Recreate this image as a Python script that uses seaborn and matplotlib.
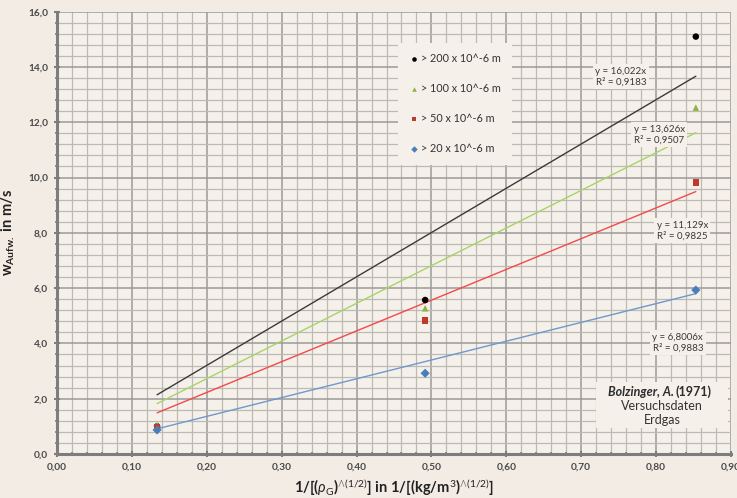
import numpy as np
import pandas as pd
import matplotlib
matplotlib.use("Agg")
import matplotlib.pyplot as plt
from matplotlib.ticker import MultipleLocator, FuncFormatter
import seaborn as sns

# Particle size classes and measured points
classes = ["> 200 x 10^-6 m", "> 100 x 10^-6 m", "> 50 x 10^-6 m", "> 20 x 10^-6 m"]
x_vals = [0.1337, 0.4916, 0.853]
y_200 = [1.00, 5.57, 15.10]
y_100 = [1.05, 5.27, 12.53]
y_50 = [0.97, 4.82, 9.83]
y_20 = [0.87, 2.92, 5.93]

# Trend lines through the origin (y = a*x) with their R²
slopes = [16.022, 13.626, 11.129, 6.8006]
r2 = [0.9183, 0.9507, 0.9825, 0.9883]
slope_labels = ["16,022", "13,626", "11,129", "6,8006"]
r2_labels = ["0,9183", "0,9507", "0,9825", "0,9883"]

point_colors = ["#000000", "#8fb33f", "#c0392b", "#4a7ebb"]
line_colors = ["#3a3a3a", "#a6d468", "#f24a4a", "#6f98cc"]
markers = ["o", "^", "s", "D"]

sns.set_theme(style="white")
plt.rcParams["font.family"] = ["Lato", "DejaVu Sans"]
plt.rcParams["mathtext.fontset"] = "custom"
plt.rcParams["mathtext.rm"] = "Lato"
plt.rcParams["mathtext.bf"] = "Lato:bold"
plt.rcParams["mathtext.it"] = "Lato:italic"

bg = "#f3ece5"
panel = "#f5f0ea"
fig = plt.figure(figsize=(7.37, 4.98), dpi=100, facecolor=bg)
ax = fig.add_axes([0.0773, 0.0884, 0.9146, 0.8881])
ax.set_facecolor(panel)

df = pd.DataFrame({
    "x": x_vals * 4,
    "y": y_200 + y_100 + y_50 + y_20,
    "Klasse": sum([[c] * 3 for c in classes], []),
})

# Grid
ax.set_xlim(0, 0.9)
ax.set_ylim(0, 16)
ax.xaxis.set_major_locator(MultipleLocator(0.1))
ax.xaxis.set_minor_locator(MultipleLocator(0.02))
ax.yaxis.set_major_locator(MultipleLocator(2.0))
ax.yaxis.set_minor_locator(MultipleLocator(0.4))
ax.grid(which="major", color="#9a9a9a", lw=1.1, zorder=0)
ax.grid(which="minor", color="#bdbab6", lw=0.9, zorder=0)
ax.set_axisbelow(True)

# Trend lines spanning the measured range
xr = np.array([min(x_vals), max(x_vals)])
for a, lc in zip(slopes, line_colors):
    sns.lineplot(x=xr, y=a * xr, color=lc, lw=1.0, ax=ax, zorder=2)

sns.scatterplot(data=df, x="x", y="y", hue="Klasse", style="Klasse",
                hue_order=classes, style_order=classes,
                palette=dict(zip(classes, point_colors)),
                markers=dict(zip(classes, markers)),
                s=22, linewidth=0, ax=ax, zorder=4)

# Legend
leg = ax.legend(loc="upper left", bbox_to_anchor=(0.506, 0.93), fontsize=7.8,
                labelspacing=1.75, handletextpad=0.15, handlelength=1.0,
                borderpad=1.0, borderaxespad=0, frameon=True, facecolor=panel,
                edgecolor="none", framealpha=1.0, markerscale=0.7)
leg.get_frame().set_boxstyle("square", pad=0)
leg.set_zorder(3)
for t in leg.get_texts():
    t.set_color("#333333")

# Equation labels
label_pos = [(0.753, 13.64), (0.804, 11.54), (0.835, 8.07), (0.829, 4.02)]
for (lx, ly), s_lab, r_lab in zip(label_pos, slope_labels, r2_labels):
    ax.text(lx, ly, f"y = {s_lab}x\nR² = {r_lab}", fontsize=7, color="#3a3a3a",
            ha="center", va="center", linespacing=1.25, zorder=5,
            bbox=dict(boxstyle="square,pad=0.25", fc=panel, ec="none"))

# Source box
ax.add_patch(plt.Rectangle((0.72, 0.94), 0.176, 1.66, fc=panel, ec="none", zorder=3))
ax.text(0.8235, 2.24, "Bolzinger, A.", fontsize=9, ha="right", va="center",
        color="#2e2e2e", fontweight="bold", fontstyle="italic", zorder=6)
ax.text(0.8255, 2.24, "(1971)", fontsize=9, ha="left", va="center",
        color="#2e2e2e", fontweight="bold", zorder=6)
ax.text(0.808, 1.74, "Versuchsdaten", fontsize=9, ha="center", va="center",
        color="#333333", zorder=6)
ax.text(0.808, 1.22, "Erdgas", fontsize=9, ha="center", va="center",
        color="#333333", zorder=6)

# Axes styling
for side in ["top", "right"]:
    ax.spines[side].set_visible(False)
for side in ["left", "bottom"]:
    ax.spines[side].set_color("#7d7d7d")
    ax.spines[side].set_linewidth(2.2)
    ax.spines[side].set_zorder(6)

ax.xaxis.set_major_formatter(FuncFormatter(lambda v, p: f"{v:.2f}".replace(".", ",")))
ax.yaxis.set_major_formatter(FuncFormatter(lambda v, p: f"{v:.1f}".replace(".", ",")))
ax.tick_params(axis="both", which="major", direction="inout", length=5, width=1.5,
               color="#7d7d7d", labelsize=7.3, labelcolor="#4a4a4a", pad=4,
               bottom=True, left=True)
ax.tick_params(axis="both", which="minor", direction="inout", length=3, width=1.2,
               color="#7d7d7d", bottom=True, left=True)
for lab in ax.get_xticklabels() + ax.get_yticklabels():
    lab.set_fontweight("bold")

ax.set_xlabel(r"1/[($\rho_\mathrm{G}$)$^{\wedge(1/2)}$] in 1/[(kg/m$^\mathrm{3}$)$^{\wedge(1/2)}$]",
              fontsize=10.5, fontweight="bold", color="#222222", labelpad=3)
ax.set_ylabel(r"$\mathbf{w}_{\mathbf{Aufw.}}$ in m/s", fontsize=10.5, fontweight="bold",
              color="#222222", labelpad=8)

fig.savefig("out.png", dpi=100, facecolor=bg)
